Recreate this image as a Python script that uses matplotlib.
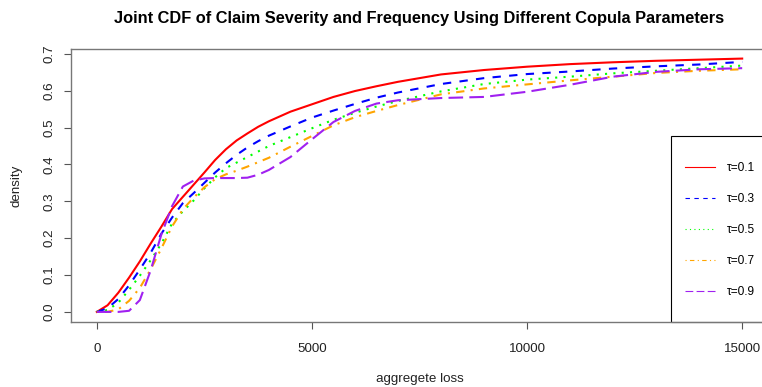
import matplotlib
matplotlib.use("Agg")
import matplotlib.pyplot as plt
from matplotlib.patches import Rectangle

plt.rcParams['font.family'] = ['Liberation Sans', 'DejaVu Sans']

# aggregate loss grid
loss = [0, 250, 500, 750, 1000, 1250, 1500, 1750, 2000, 2250, 2500, 2750, 3000,
        3250, 3500, 3750, 4000, 4500, 5000, 5500, 6000, 6500, 7000, 8000, 9000,
        10000, 11000, 12000, 13000, 14000, 15000]

cdf_01 = [0, 0.018, 0.052, 0.093, 0.137, 0.185, 0.231, 0.279, 0.312, 0.345, 0.378,
          0.412, 0.441, 0.465, 0.484, 0.502, 0.517, 0.543, 0.563, 0.583, 0.599,
          0.612, 0.624, 0.644, 0.656, 0.665, 0.672, 0.677, 0.681, 0.684, 0.687]
cdf_03 = [0, 0.010, 0.035, 0.072, 0.115, 0.160, 0.212, 0.256, 0.295, 0.322, 0.350,
          0.378, 0.403, 0.426, 0.446, 0.463, 0.478, 0.503, 0.527, 0.546, 0.564,
          0.581, 0.595, 0.618, 0.634, 0.645, 0.652, 0.660, 0.666, 0.671, 0.678]
cdf_05 = [0, 0.005, 0.025, 0.060, 0.098, 0.140, 0.185, 0.240, 0.273, 0.302, 0.335,
          0.365, 0.390, 0.405, 0.420, 0.435, 0.450, 0.474, 0.498, 0.521, 0.540,
          0.557, 0.572, 0.598, 0.618, 0.630, 0.638, 0.647, 0.654, 0.661, 0.668]
cdf_07 = [0, 0, 0.007, 0.030, 0.065, 0.115, 0.172, 0.232, 0.278, 0.310, 0.338,
          0.360, 0.373, 0.383, 0.394, 0.406, 0.418, 0.448, 0.477, 0.506, 0.528,
          0.545, 0.561, 0.590, 0.606, 0.617, 0.628, 0.638, 0.648, 0.654, 0.658]
cdf_09 = [0, 0, 0, 0.003, 0.032, 0.112, 0.210, 0.287, 0.340, 0.356, 0.362,
          0.363, 0.363, 0.363, 0.364, 0.372, 0.385, 0.420, 0.468, 0.515, 0.545,
          0.565, 0.574, 0.580, 0.583, 0.597, 0.616, 0.638, 0.651, 0.658, 0.661]

labels = ["τ=0.1", "τ=0.3", "τ=0.5", "τ=0.7", "τ=0.9"]
colors = ["red", "blue", "#00FF00", "orange", "#A020F0"]
styles = ["-", (0, (4, 4)), (0, (1, 3)), (0, (1, 3, 4, 3)), (0, (7, 3))]

fig = plt.figure(figsize=(7.62, 3.87), dpi=100)
ax = fig.add_axes([71 / 762, 65 / 387, 697 / 762, 273 / 387])

for ys, c, ls, lab in zip([cdf_01, cdf_03, cdf_05, cdf_07, cdf_09], colors, styles, labels):
    ax.plot(loss, ys, color=c, linestyle=ls, linewidth=1.5, label=lab)

ax.set_xlim(-600, 15600)
ax.set_ylim(-0.0274, 0.713)
ax.set_xticks([0, 5000, 10000, 15000])
ax.set_yticks([0, 0.1, 0.2, 0.3, 0.4, 0.5, 0.6, 0.7])
ax.set_yticklabels(["0.0", "0.1", "0.2", "0.3", "0.4", "0.5", "0.6", "0.7"],
                   rotation=90, va="center")
ax.tick_params(direction="out", length=5, width=0.8, color="#555555",
               labelsize=9.6, pad=6, labelcolor="#222222")
ax.tick_params(axis="x", pad=10)
for s in ax.spines.values():
    s.set_color("#777777")
    s.set_linewidth(1.0)

ax.set_xlabel("aggregete loss", fontsize=9.6, labelpad=13, color="#222222")
ax.set_ylabel("density", fontsize=9.6, labelpad=15, color="#222222")
fig.text(419 / 762, 1 - 18 / 387, "Joint CDF of Claim Severity and Frequency Using Different Copula Parameters",
         ha="center", va="center", fontsize=11.8, fontweight="bold")

# legend box
ax.add_patch(Rectangle((600 / 697, 0), 1.0, 186 / 273, transform=ax.transAxes,
                       fill=False, edgecolor="black", linewidth=0.8, clip_on=False))
leg = ax.legend(loc="upper left", bbox_to_anchor=(685 / 762, 1 - 162 / 387),
                bbox_transform=fig.transFigure, frameon=False, fontsize=8.6,
                borderpad=0, borderaxespad=0, handlelength=2.5,
                handletextpad=1.0, labelspacing=1.6)
for l in leg.get_lines():
    l.set_linewidth(0.8)

fig.savefig("out.png", dpi=100)
